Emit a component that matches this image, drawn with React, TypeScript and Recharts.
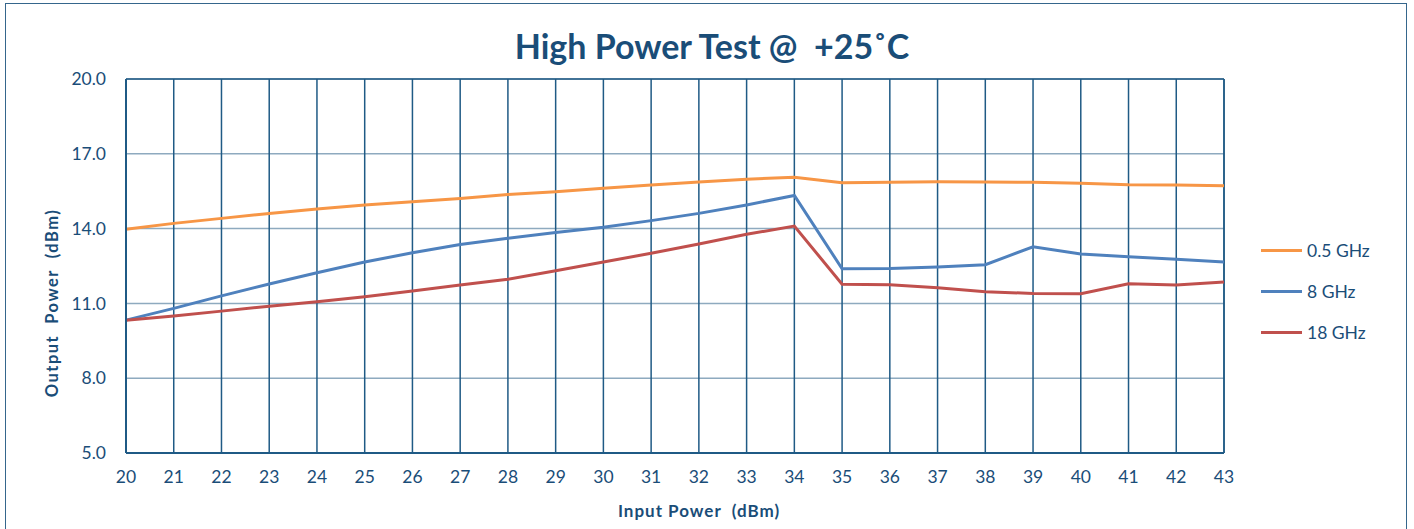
import React from "react";
import {
  LineChart,
  Line,
  XAxis,
  YAxis,
  CartesianGrid,
  ReferenceLine,
} from "recharts";

const inputPower = [20, 21, 22, 23, 24, 25, 26, 27, 28, 29, 30, 31, 32, 33, 34, 35, 36, 37, 38, 39, 40, 41, 42, 43];

const ghz05 = [13.97, 14.21, 14.41, 14.61, 14.79, 14.95, 15.08, 15.21, 15.37, 15.48, 15.62, 15.75, 15.87, 15.98, 16.06, 15.84, 15.86, 15.88, 15.87, 15.86, 15.82, 15.76, 15.75, 15.72];
const ghz8 = [10.33, 10.8, 11.3, 11.78, 12.23, 12.66, 13.03, 13.36, 13.61, 13.84, 14.05, 14.32, 14.61, 14.95, 15.33, 12.39, 12.4, 12.46, 12.55, 13.27, 12.98, 12.87, 12.77, 12.66];
const ghz18 = [10.32, 10.49, 10.69, 10.89, 11.07, 11.27, 11.5, 11.74, 11.97, 12.31, 12.66, 13.01, 13.38, 13.77, 14.1, 11.77, 11.75, 11.63, 11.47, 11.4, 11.39, 11.79, 11.74, 11.86];

const yTicks = [5, 8, 11, 14, 17, 20];

const seriesInfo = [
  { key: "ghz05", name: "0.5 GHz", color: "#f79646" },
  { key: "ghz8", name: "8 GHz", color: "#4f81bd" },
  { key: "ghz18", name: "18 GHz", color: "#c0504d" },
];

const data = inputPower.map((x, i) => ({
  x,
  ghz05: ghz05[i],
  ghz8: ghz8[i],
  ghz18: ghz18[i],
}));

const FONT = "Lato, 'Open Sans', sans-serif";
const TEXT = "#1a4d78";
const GRID_DARK = "#1f5a85";

export default function App() {
  return (
    <div
      style={{
        position: "absolute",
        left: 0,
        top: 0,
        width: 1414,
        height: 529,
        background: "#fff",
        overflow: "hidden",
        fontFamily: FONT,
      }}
    >
      <div
        style={{
          position: "absolute",
          left: 5,
          top: 3,
          width: 1402,
          height: 540,
          border: "1.5px solid #35668c",
          boxSizing: "border-box",
        }}
      />
      <div
        style={{
          position: "absolute",
          left: 0,
          width: 1424,
          top: 25,
          lineHeight: "42px",
          textAlign: "center",
          fontSize: 34,
          fontWeight: 700,
          color: TEXT,
          whiteSpace: "pre",
        }}
      >
        {"High Power Test @  +25˚C"}
      </div>

      {/* legend on the right */}
      <div style={{ position: "absolute", left: 1261, top: 230 }}>
        {seriesInfo.map((s) => (
          <div key={s.key} style={{ display: "flex", alignItems: "center", height: 41 }}>
            <div style={{ width: 41, height: 3, background: s.color, marginRight: 5 }} />
            <span style={{ color: TEXT, fontSize: 17.5 }}>{s.name}</span>
          </div>
        ))}
      </div>

      <LineChart
        width={1414}
        height={529}
        data={data}
        margin={{ top: 79, right: 190, bottom: 46, left: 0 }}
        style={{ position: "absolute", left: 0, top: 0 }}
      >
        <CartesianGrid stroke="#8eaabf" strokeWidth={1.5} vertical={false} />
        <CartesianGrid stroke={GRID_DARK} strokeWidth={1.5} horizontal={false} />
        <ReferenceLine y={20} stroke={GRID_DARK} strokeWidth={1.5} />
        <ReferenceLine x={43} stroke={GRID_DARK} strokeWidth={1.5} />
        <XAxis
          dataKey="x"
          type="number"
          domain={[20, 43]}
          ticks={inputPower}
          interval={0}
          height={30}
          axisLine={{ stroke: GRID_DARK, strokeWidth: 2 }}
          tickLine={false}
          tickMargin={12}
          tick={{ fill: TEXT, fontSize: 17.5, fontFamily: FONT }}
          label={{
            content: () => (
              <text
                x={699}
                y={517}
                textAnchor="middle"
                fill={TEXT}
                fontSize={17}
                fontWeight={700}
                fontFamily={FONT}
                letterSpacing={1}
                style={{ whiteSpace: "pre" }}
              >
                {"Input Power  (dBm)"}
              </text>
            ),
          }}
        />
        <YAxis
          type="number"
          domain={[5, 20]}
          ticks={yTicks}
          width={126}
          axisLine={{ stroke: GRID_DARK, strokeWidth: 2 }}
          tickLine={false}
          tickMargin={14}
          tickFormatter={(v: number) => v.toFixed(1)}
          tick={{ fill: TEXT, fontSize: 17.5, fontFamily: FONT }}
          label={{
            content: () => (
              <text
                x={58}
                y={303}
                transform="rotate(-90 58 303)"
                textAnchor="middle"
                fill={TEXT}
                fontSize={16.5}
                fontWeight={700}
                fontFamily={FONT}
                letterSpacing={1.5}
                style={{ whiteSpace: "pre" }}
              >
                {"Output  Power  (dBm)"}
              </text>
            ),
          }}
        />
        {seriesInfo.map((s) => (
          <Line
            key={s.key}
            dataKey={s.key}
            name={s.name}
            stroke={s.color}
            strokeWidth={3}
            dot={false}
            type="linear"
            isAnimationActive={false}
          />
        ))}
      </LineChart>
    </div>
  );
}
